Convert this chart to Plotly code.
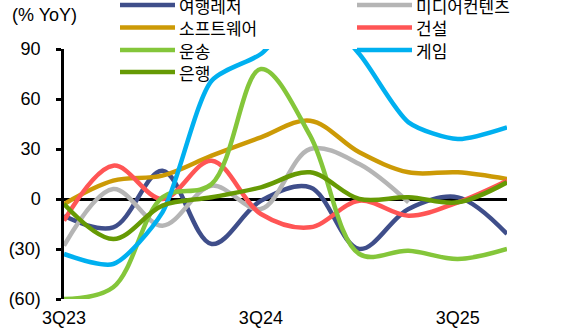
import plotly.graph_objects as go

# Quarterly YoY growth by sector (%)
quarters = ["3Q23", "4Q23", "1Q24", "2Q24", "3Q24", "4Q24", "1Q25", "2Q25", "3Q25", "4Q25"]
tick_quarters = ["3Q23", "3Q24", "3Q25"]

leisure = [-10, -17, 17, -27, -1, 7, -30, -6, 1, -21]          # 여행레저
media = [-28, 6, -16, 8, -6, 30, 21, -2, None, None]             # 미디어컨텐츠
software = [-3, 11, 14, 26, 37, 47, 28, 16, 16, 12]              # 소프트웨어
construction = [-13, 20, 0, 23, -9, -17, -1, -10, -2, 11]        # 건설
transport = [-60, -53, 1, 9, 78, 38, -33, -31, -36, -30]         # 운송
game = [-33, -39, -8, 71, 87, 115, 87, 46, 36, 43]               # 게임
bank = [-3, -24, -4, 1, 7, 16, 0, 1, -2, 10]                     # 은행

y_ticks = [-60, -30, 0, 30, 60, 90]
y_tick_text = ["(60)", "(30)", "0", "30", "60", "90"]

series = [
    ("여행레저", leisure, "#3F4E8A", 1.0),
    ("미디어컨텐츠", media, "#B5B5B5", 1.0),
    ("소프트웨어", software, "#CC9A06", 1.0),
    ("건설", construction, "#FF5555", 1.0),
    ("운송", transport, "#84C63A", 1.0),
    ("게임", game, "#00B0F0", 0.7),
    ("은행", bank, "#669A04", 1.0),
]

W, H = 561, 333
L, R, T, B = 64, 54, 49, 34
PW, PH = W - L - R, H - T - B


def px(x):
    return (x - L) / PW


def py(y):
    return (H - B - y) / PH


FONT = "Liberation Sans, Noto Sans CJK KR, sans-serif"

fig = go.Figure()
for name, vals, color, smooth in series:
    fig.add_trace(go.Scatter(
        x=quarters, y=vals, name=name, mode="lines",
        line=dict(color=color, width=4.5, shape="spline", smoothing=smooth),
        showlegend=False, hoverinfo="skip",
    ))

# Two-column legend drawn above the plot
shapes = []
annotations = []
col_x = [120, 357]
row_y = [5, 27.5, 50, 72]
for i, (name, _, color, _) in enumerate(series):
    c, r = i % 2, i // 2
    x0 = col_x[c]
    y0 = row_y[r]
    shapes.append(dict(type="line", xref="paper", yref="paper",
                       x0=px(x0), x1=px(x0 + 55), y0=py(y0), y1=py(y0),
                       line=dict(color=color, width=4.5)))
    annotations.append(dict(xref="paper", yref="paper", x=px(x0 + 57), y=py(y0),
                            xanchor="left", yanchor="middle", showarrow=False,
                            text=name, font=dict(size=17, color="black",
                                                 family="Noto Sans CJK KR, sans-serif")))

annotations.append(dict(xref="paper", yref="paper", x=px(10), y=py(15),
                        xanchor="left", yanchor="middle", showarrow=False,
                        text="(% YoY)", font=dict(size=18, color="black", family=FONT)))

fig.update_layout(
    width=W, height=H,
    margin=dict(l=L, r=R, t=T, b=B, pad=0, autoexpand=False),
    paper_bgcolor="white", plot_bgcolor="white",
    font=dict(family=FONT, size=18, color="black"),
    shapes=shapes, annotations=annotations,
    showlegend=False,
    xaxis=dict(
        type="category", range=[0, len(quarters) - 1], automargin=False,
        tickmode="array", tickvals=tick_quarters, ticktext=tick_quarters,
        showgrid=False, showline=False, zeroline=False, ticks="",
        ticklabelstandoff=6,
        tickfont=dict(size=18, color="black"),
    ),
    yaxis=dict(
        range=[-60, 90], automargin=False,
        tickmode="array", tickvals=y_ticks, ticktext=y_tick_text,
        showgrid=False, showline=True, linecolor="black", linewidth=2.5,
        ticks="outside", ticklen=5, tickwidth=2.5, tickcolor="black",
        zeroline=True, zerolinecolor="black", zerolinewidth=2.5,
        ticklabelstandoff=12,
        tickfont=dict(size=18, color="black"),
    ),
)

fig.write_html("out.html")
